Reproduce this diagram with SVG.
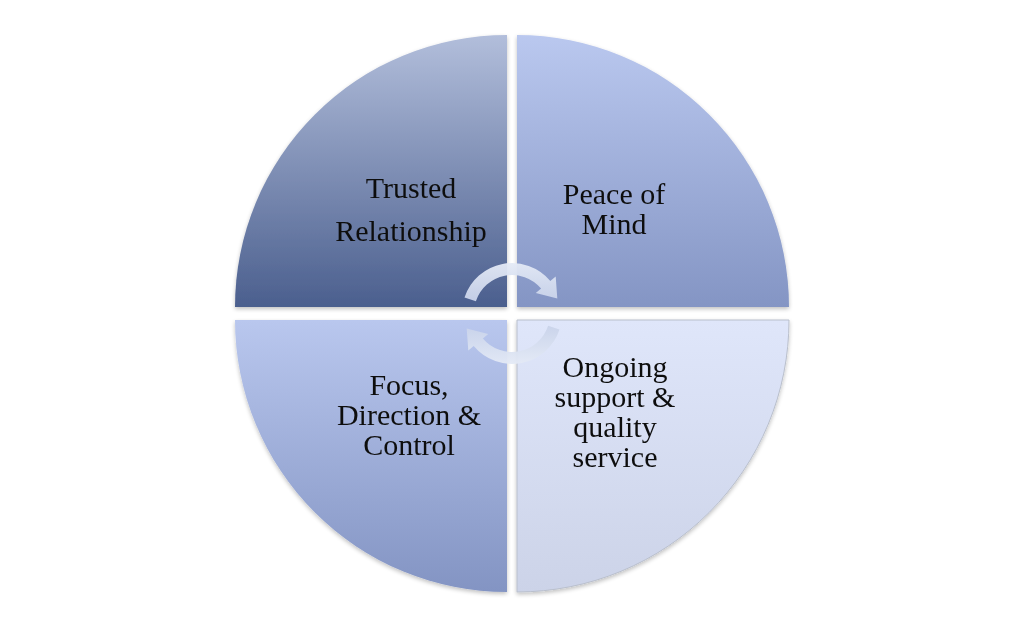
<svg xmlns="http://www.w3.org/2000/svg" width="1024" height="627" viewBox="0 0 1024 627">
<defs>
<linearGradient id="gTL" x1="0" y1="0" x2="0" y2="1"><stop offset="0" stop-color="#b2bedb"/><stop offset="1" stop-color="#4b5f8e"/></linearGradient>
<linearGradient id="gTR" x1="0" y1="0" x2="0" y2="1"><stop offset="0" stop-color="#bac8ef"/><stop offset="1" stop-color="#8495c4"/></linearGradient>
<linearGradient id="gBL" x1="0" y1="0" x2="0" y2="1"><stop offset="0" stop-color="#b9c7ee"/><stop offset="1" stop-color="#8394c3"/></linearGradient>
<linearGradient id="gBR" x1="0" y1="0" x2="0" y2="1"><stop offset="0" stop-color="#dfe6fa"/><stop offset="1" stop-color="#ccd3e8"/></linearGradient>
<linearGradient id="gArr" x1="0" y1="0" x2="0" y2="1"><stop offset="0" stop-color="#e4eaf6"/><stop offset="1" stop-color="#c9d3ea"/></linearGradient>
<filter id="sh" x="-10%" y="-10%" width="120%" height="120%"><feGaussianBlur in="SourceAlpha" stdDeviation="2"/><feOffset dx="0" dy="1.5"/><feComponentTransfer><feFuncA type="linear" slope="0.25"/></feComponentTransfer><feMerge><feMergeNode/><feMergeNode in="SourceGraphic"/></feMerge></filter>
</defs>
<style>
.lbl{font-family:"Liberation Serif","Times New Roman",serif;font-size:30px;fill:#111;text-anchor:middle}
.arr{fill:url(#gArr);opacity:0.95}
</style>
<rect width="1024" height="627" fill="#ffffff"/>
<g id="trusted-relationship" filter="url(#sh)">
<path d="M507,307 L235,307 A272,272 0 0 1 507,35 Z" fill="url(#gTL)"/>
<text class="lbl" x="411" y="198">Trusted</text>
<text class="lbl" x="411" y="241">Relationship</text>
</g>
<g id="peace-of-mind" filter="url(#sh)">
<path d="M517,307 L517,35 A272,272 0 0 1 789,307 Z" fill="url(#gTR)"/>
<text class="lbl" x="614" y="204">Peace of</text>
<text class="lbl" x="614" y="234">Mind</text>
</g>
<g id="focus-direction-control" filter="url(#sh)">
<path d="M507,320 L507,592 A272,272 0 0 1 235,320 Z" fill="url(#gBL)"/>
<text class="lbl" x="409" y="395">Focus,</text>
<text class="lbl" x="409" y="425">Direction &amp;</text>
<text class="lbl" x="409" y="455">Control</text>
</g>
<g id="ongoing-support" filter="url(#sh)">
<path d="M517,320 L789,320 A272,272 0 0 1 517,592 Z" fill="url(#gBR)" stroke="#b9bfcc" stroke-width="1"/>
<text class="lbl" x="615" y="377">Ongoing</text>
<text class="lbl" x="615" y="407">support &amp;</text>
<text class="lbl" x="615" y="437">quality</text>
<text class="lbl" x="615" y="467">service</text>
</g>
<g id="connectors">
<path class="arr" d="M464.5,297.5 A50,50 0 0 1 550.3,280.9 L555.7,276.4 L557.3,298.5 L535.8,293.1 L541.1,288.6 A38,38 0 0 0 475.9,301.3 Z"/>
<path class="arr" transform="rotate(180 512 313.5)" d="M464.5,297.5 A50,50 0 0 1 550.3,280.9 L555.7,276.4 L557.3,298.5 L535.8,293.1 L541.1,288.6 A38,38 0 0 0 475.9,301.3 Z"/>
</g>
</svg>
